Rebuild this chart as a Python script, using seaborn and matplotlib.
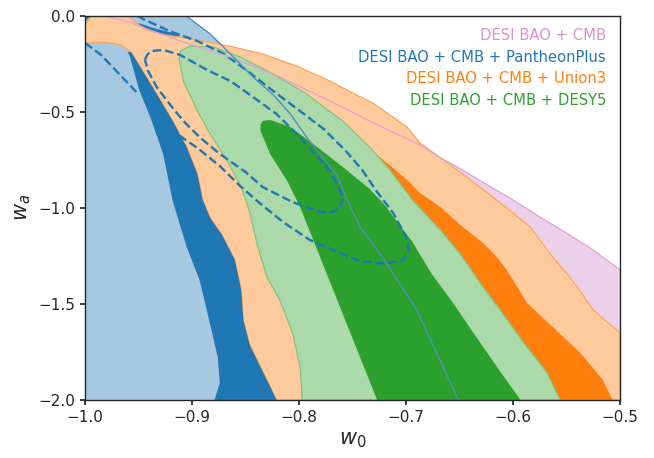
import matplotlib
matplotlib.use("Agg")
import matplotlib.pyplot as plt
import seaborn as sns

# axis ranges
W0_MIN, W0_MAX = -1.0, -0.5
WA_MIN, WA_MAX = -2.0, 0.0

# DESI BAO + CMB, outer contour upper edge (rest is hidden below the others)
bao_cmb_w0 = [-0.982, -0.958, -0.942, -0.911, -0.864, -0.818, -0.771, -0.734, -0.687,
              -0.669, -0.647, -0.624, -0.600, -0.575, -0.550, -0.525, -0.500]
bao_cmb_wa = [-0.003, -0.034, -0.070, -0.133, -0.216, -0.320, -0.445, -0.549, -0.673,
              -0.736, -0.804, -0.881, -0.959, -1.048, -1.131, -1.220, -1.323]

# + PantheonPlus, outer contour right edge
pp_out_w0 = [-0.906, -0.883, -0.864, -0.843, -0.824, -0.808, -0.793, -0.778, -0.764,
             -0.755, -0.743, -0.721, -0.690, -0.651]
pp_out_wa = [0.0, -0.096, -0.200, -0.320, -0.413, -0.512, -0.632, -0.736, -0.835,
             -0.959, -1.100, -1.266, -1.532, -2.0]
# + PantheonPlus, inner contour (visible band)
pp_in_left_w0 = [-0.960, -0.958, -0.949, -0.939, -0.927, -0.918, -0.905, -0.893, -0.884,
                 -0.876, -0.874, -0.879]
pp_in_left_wa = [-0.190, -0.216, -0.393, -0.528, -0.720, -0.965, -1.204, -1.375, -1.584,
                 -1.776, -1.911, -2.0]
pp_in_right_w0 = [-0.957, -0.946, -0.933, -0.918, -0.905, -0.895, -0.890, -0.883, -0.872,
                  -0.860, -0.854, -0.852, -0.846, -0.830, -0.821]
pp_in_right_wa = [-0.190, -0.289, -0.408, -0.549, -0.684, -0.824, -0.959, -1.053, -1.141,
                  -1.271, -1.428, -1.584, -1.714, -1.896, -2.0]
# small piece of the inner contour near the top
pp_cap_w0 = [-0.950, -0.939, -0.925, -0.911, -0.921, -0.944]
pp_cap_wa = [-0.039, -0.060, -0.081, -0.101, -0.153, -0.127]

# + Union3, outer contour
u3_out_top_w0 = [-1.0, -0.9935, -0.961, -0.951, -0.942, -0.925, -0.895, -0.865, -0.834,
                 -0.802, -0.771, -0.750, -0.731, -0.699, -0.687, -0.665, -0.640, -0.619,
                 -0.600, -0.584, -0.575, -0.563, -0.550, -0.540, -0.525, -0.500]
u3_out_top_wa = [-0.049, 0.0, 0.0, -0.044, -0.075, -0.101, -0.127, -0.159, -0.200,
                 -0.263, -0.341, -0.403, -0.455, -0.580, -0.663, -0.751, -0.855, -0.944,
                 -1.027, -1.100, -1.167, -1.256, -1.339, -1.412, -1.532, -1.651]
u3_out_left_w0 = [-0.821, -0.830, -0.846, -0.852, -0.854, -0.860, -0.872, -0.883, -0.890,
                  -0.895, -0.905, -0.918, -0.933, -0.946, -0.957, -0.966, -0.982, -1.0]
u3_out_left_wa = [-2.0, -1.896, -1.714, -1.584, -1.428, -1.271, -1.141, -1.053, -0.959,
                  -0.824, -0.684, -0.549, -0.408, -0.289, -0.190, -0.153, -0.138, -0.143]
# + Union3, inner contour (right edge visible, left edge under DESY5)
u3_in_w0 = [-0.729, -0.699, -0.687, -0.668, -0.647, -0.628, -0.615, -0.606, -0.596,
            -0.587, -0.563, -0.537, -0.516, -0.507, -0.620, -0.700, -0.740]
u3_in_wa = [-0.715, -0.855, -0.923, -0.996, -1.100, -1.183, -1.256, -1.323, -1.412,
            -1.495, -1.620, -1.755, -1.896, -2.0, -2.0, -1.300, -0.800]

# + DESY5, outer contour
y5_out_top_w0 = [-0.912, -0.911, -0.902, -0.880, -0.855, -0.824, -0.793, -0.759, -0.734,
                 -0.715, -0.694, -0.668, -0.650, -0.628, -0.612, -0.587, -0.568, -0.556]
y5_out_top_wa = [-0.231, -0.185, -0.159, -0.164, -0.216, -0.304, -0.408, -0.549, -0.684,
                 -0.803, -0.959, -1.115, -1.235, -1.412, -1.532, -1.724, -1.859, -2.0]
y5_out_left_w0 = [-0.797, -0.799, -0.806, -0.818, -0.830, -0.839, -0.846, -0.854, -0.867,
                  -0.883, -0.895, -0.908]
y5_out_left_wa = [-2.0, -1.828, -1.651, -1.479, -1.360, -1.193, -1.022, -0.892, -0.757,
                  -0.616, -0.497, -0.341]
# + DESY5, inner contour
y5_in_right_w0 = [-0.834, -0.827, -0.808, -0.783, -0.759, -0.734, -0.720, -0.706, -0.694,
                  -0.676, -0.656, -0.637, -0.615, -0.593]
y5_in_right_wa = [-0.549, -0.543, -0.580, -0.684, -0.788, -0.902, -0.985, -1.089, -1.178,
                  -1.344, -1.495, -1.651, -1.828, -2.0]
y5_in_left_w0 = [-0.727, -0.743, -0.752, -0.768, -0.783, -0.799, -0.811, -0.827, -0.836,
                 -0.836]
y5_in_left_wa = [-2.0, -1.776, -1.651, -1.428, -1.219, -0.996, -0.861, -0.720, -0.601,
                 -0.566]

# dashed contours
dash_out_w0 = [-0.951, -0.946, -0.921, -0.895, -0.870, -0.848, -0.824, -0.799, -0.777,
               -0.757, -0.741, -0.727, -0.712, -0.701, -0.697, -0.703, -0.720, -0.743,
               -0.764, -0.790, -0.815, -0.838, -0.855, -0.874, -0.895, -0.914]
dash_out_wa = [0.0, -0.018, -0.081, -0.133, -0.200, -0.289, -0.393, -0.497, -0.590,
               -0.700, -0.803, -0.918, -1.027, -1.141, -1.219, -1.271, -1.292, -1.277,
               -1.230, -1.167, -1.074, -0.970, -0.887, -0.783, -0.689, -0.616]
dash_left_w0 = [-1.0, -0.985, -0.952]
dash_left_wa = [-0.143, -0.205, -0.398]
dash_corner_w0 = [-1.0, -0.996]
dash_corner_wa = [-0.023, 0.0]
dash_in_w0 = [-0.944, -0.942, -0.938, -0.927, -0.911, -0.886, -0.864, -0.843, -0.821,
              -0.806, -0.790, -0.774, -0.764, -0.759, -0.762, -0.768, -0.780, -0.799,
              -0.808, -0.834, -0.850, -0.874, -0.893, -0.908, -0.921, -0.933, -0.941, -0.944]
dash_in_wa = [-0.231, -0.205, -0.185, -0.179, -0.205, -0.283, -0.341, -0.424, -0.512,
              -0.595, -0.689, -0.788, -0.881, -0.949, -1.001, -1.022, -1.022, -0.985,
              -0.965, -0.892, -0.814, -0.720, -0.632, -0.549, -0.460, -0.372, -0.289, -0.231]

labels = ["DESI BAO + CMB", "DESI BAO + CMB + PantheonPlus",
          "DESI BAO + CMB + Union3", "DESI BAO + CMB + DESY5"]
label_colors = ["#dc8fd2", "#1f77b4", "#ff7f0e", "#2ca02c"]

x_ticks = [-1.0, -0.9, -0.8, -0.7, -0.6, -0.5]
y_ticks = [-2.0, -1.5, -1.0, -0.5, 0.0]

#%%
sns.set_theme(context="notebook", style="ticks",
              rc={"xtick.major.size": 3.5, "ytick.major.size": 3.5, "axes.linewidth": 1.0})
plt.rcParams["font.family"] = ["DejaVu Sans"]

fig = plt.figure(figsize=(6.54, 4.58), dpi=100)
ax = fig.add_axes([0.130, 0.1266, 0.818, 0.8395])


def fill(w0, wa, color, z, edge="none"):
    ax.fill(w0, wa, facecolor=color, edgecolor=edge, lw=0.9, zorder=z)


def curve(w0, wa, **kw):
    sns.lineplot(x=w0, y=wa, sort=False, estimator=None, ax=ax, **kw)


# filled regions, back to front
fill(bao_cmb_w0 + [W0_MAX, W0_MIN, W0_MIN],
     bao_cmb_wa + [WA_MIN, WA_MIN, bao_cmb_wa[0]], "#eccfe8", 1.0)
fill([W0_MIN] + pp_out_w0 + [W0_MIN], [WA_MAX] + pp_out_wa + [WA_MIN], "#a6c8e0", 1.1)
fill(pp_cap_w0, pp_cap_wa, "#1f77b4", 1.15)
fill(u3_out_top_w0 + [W0_MAX] + u3_out_left_w0,
     u3_out_top_wa + [WA_MIN] + u3_out_left_wa, "#ffca9c", 1.2, edge="#ffa556")
fill(u3_in_w0, u3_in_wa, "#ff7f0e", 1.3)
fill(y5_out_top_w0 + y5_out_left_w0, y5_out_top_wa + y5_out_left_wa,
     "#acd9aa", 1.4, edge="#80c47e")
fill(y5_in_right_w0 + y5_in_left_w0, y5_in_right_wa + y5_in_left_wa, "#2ca02c", 1.5)

# dashed contours
for w0, wa in [(dash_out_w0, dash_out_wa), (dash_left_w0, dash_left_wa),
               (dash_corner_w0, dash_corner_wa), (dash_in_w0, dash_in_wa)]:
    curve(w0, wa, color="#1f77b4", lw=1.7, linestyle="--", zorder=1.6)

fill(pp_in_left_w0 + pp_in_right_w0[::-1], pp_in_left_wa + pp_in_right_wa[::-1],
     "#1f77b4", 1.7)

# thin contour edges on top
curve(bao_cmb_w0, bao_cmb_wa, color="#dfa3d8", lw=0.9, zorder=1.8)
curve(pp_out_w0, pp_out_wa, color="#4f8fbf", lw=1.0, zorder=1.9)

for i, (lab, col) in enumerate(zip(labels, label_colors)):
    ax.text(0.974, 0.949 - i * 0.057, lab, transform=ax.transAxes,
            ha="right", va="center", color=col, fontsize=10.6)

ax.set_xlim(W0_MIN, W0_MAX)
ax.set_ylim(WA_MIN, WA_MAX)
ax.set_xticks(x_ticks)
ax.set_yticks(y_ticks)
ax.set_xlabel(r"$w_0$", fontsize=15)
ax.set_ylabel(r"$w_a$", fontsize=15)

fig.savefig("out.png", dpi=100)
